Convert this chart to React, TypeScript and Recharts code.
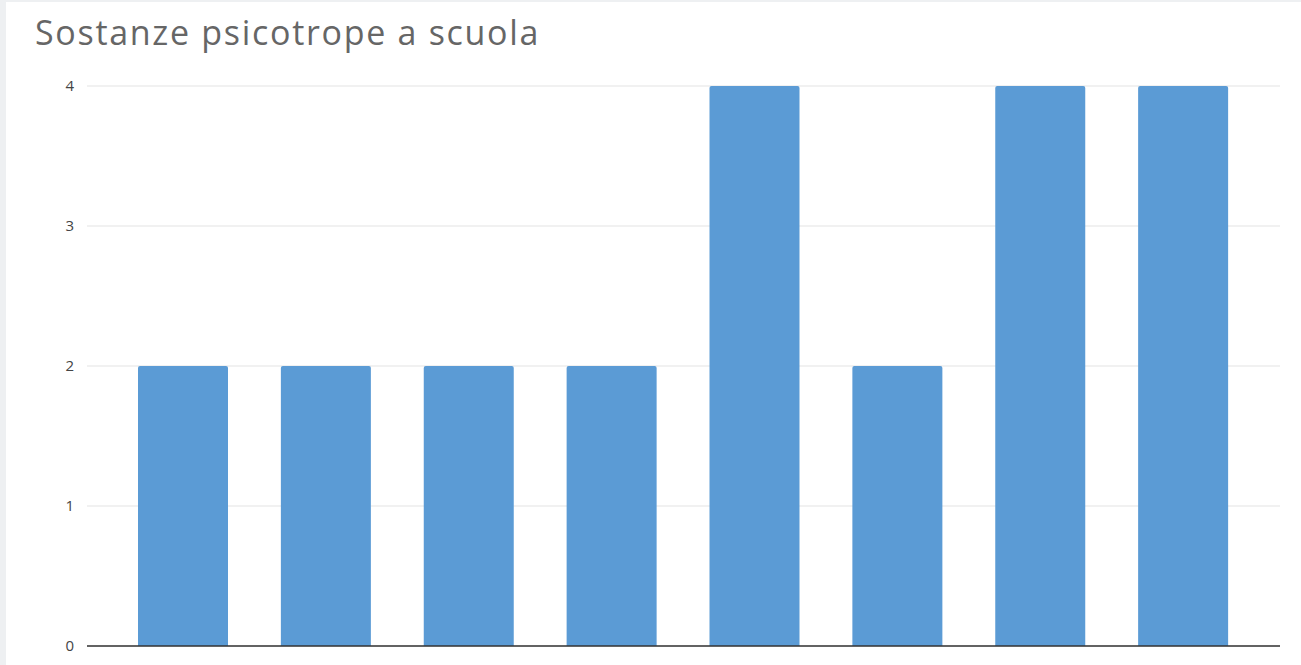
import { BarChart, Bar, XAxis, YAxis, CartesianGrid } from 'recharts';

const categories = ['1', '2', '3', '4', '5', '6', '7', '8'];
const risposte = [2, 2, 2, 2, 4, 2, 4, 4];
const yTicks = [0, 1, 2, 3, 4];

const data = categories.map((c, i) => ({ name: c, valore: risposte[i] }));

export default function App() {
  return (
    <div
      style={{
        position: 'absolute',
        left: 0,
        top: 0,
        width: 1301,
        height: 665,
        background: '#eef0f2',
        fontFamily: '"Open Sans", sans-serif',
      }}
    >
      <div style={{ position: 'absolute', left: 6, top: 2, width: 1295, height: 663, background: '#fff' }} />
      <div
        style={{
          position: 'absolute',
          left: 35,
          top: 9,
          fontSize: 34,
          letterSpacing: 1.7,
          color: '#666',
          whiteSpace: 'nowrap',
        }}
      >
        Sostanze psicotrope a scuola
      </div>
      <div style={{ position: 'absolute', left: 0, top: 0 }}>
        <BarChart width={1301} height={665} data={data} margin={{ top: 86, right: 21, bottom: 9, left: 0 }}>
          <CartesianGrid vertical={false} stroke="#e3e3e3" />
          <XAxis
            dataKey="name"
            tick={false}
            tickLine={false}
            height={10}
            padding={{ left: 25, right: 25 }}
            axisLine={{ stroke: '#333', strokeWidth: 1.5 }}
          />
          <YAxis
            width={87}
            domain={[0, 4]}
            ticks={yTicks}
            axisLine={false}
            tickLine={false}
            tickMargin={7}
            tick={{ fontSize: 15, fill: '#444', fontFamily: '"Open Sans", sans-serif' }}
          />
          <Bar dataKey="valore" fill="#5b9bd5" barSize={90} radius={[2, 2, 0, 0]} isAnimationActive={false} />
        </BarChart>
      </div>
    </div>
  );
}
